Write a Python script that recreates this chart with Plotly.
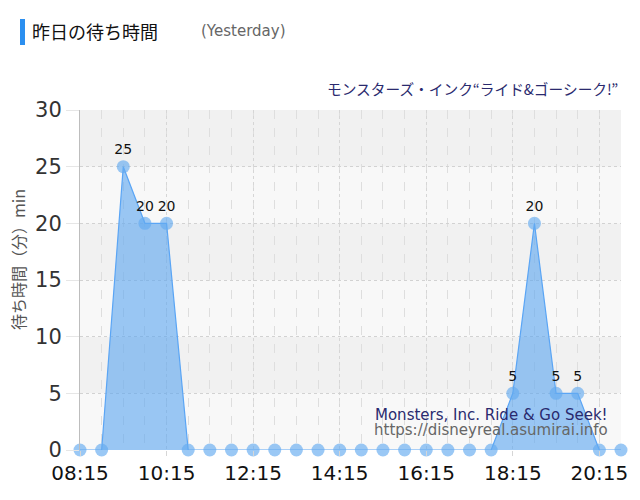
import plotly.graph_objects as go
import pandas as pd

times = ["08:15","08:45","09:15","09:45","10:15","10:45","11:15","11:45","12:15","12:45",
         "13:15","13:45","14:15","14:45","15:15","15:45","16:15","16:45","17:15","17:45",
         "18:15","18:45","19:15","19:45","20:15","20:45"]
waits = [0,0,25,20,20,0,0,0,0,0,0,0,0,0,0,0,0,0,0,0,5,20,5,5,0,0]
tick_labels = ["08:15","10:15","12:15","14:15","16:15","18:15","20:15"]
y_ticks = [0,5,10,15,20,25,30]

day = "2024-01-01 "
xs = pd.to_datetime([day + t for t in times])
tickvals = pd.to_datetime([day + t for t in tick_labels])
labels = [str(v) if v else "" for v in waits]

JP = "Noto Sans CJK JP, Noto Sans, sans-serif"
LAT = "DejaVu Sans, Verdana, sans-serif"

# page has an 8px body margin; plot area spans x 80..621, y 110..450 in the window
PL, PR, PT, PB = 80, 621, 110, 450
PW, PH = PR - PL, PB - PT

fig = go.Figure()
fig.add_trace(go.Scatter(
    x=xs, y=waits, mode="lines+markers+text", text=labels,
    textposition="top center", textfont=dict(size=14, color="#111", family=LAT),
    line=dict(color="#5aa5f5", width=1.2),
    fill="tozeroy", fillcolor="rgba(90,165,240,0.6)",
    marker=dict(size=13, color="rgba(100,170,240,0.65)", line=dict(width=0)),
    cliponaxis=False, hoverinfo="skip"))

shapes = []
for i in range(6):
    shapes.append(dict(type="rect", xref="paper", yref="y", x0=0, x1=1,
                       y0=i*5, y1=i*5+5, layer="below", line=dict(width=0),
                       fillcolor="#f8f8f8" if i % 2 == 0 else "#f1f1f1"))
fig.update_layout(shapes=shapes)

fig.update_layout(
    width=624, height=484,
    margin=dict(l=PL-8, r=624+8-PR, t=PT-8, b=484+8-PB),
    paper_bgcolor="white", plot_bgcolor="rgba(0,0,0,0)",
    showlegend=False,
    xaxis=dict(
        type="date", range=[xs[0], xs[-1]], automargin=False,
        tickvals=tickvals, ticktext=tick_labels,
        tickfont=dict(size=20, color="#111", family=LAT),
        showgrid=True, gridcolor="#d6d6d6", griddash="dot", gridwidth=1,
        ticks="outside", ticklen=5, tickcolor="#d6d6d6",
        showline=False, zeroline=False,
        minor=dict(dtick=30*60*1000, tick0=xs[0], showgrid=True,
                   gridcolor="#dedede", griddash="dash", gridwidth=1),
    ),
    yaxis=dict(
        range=[0, 30], tickvals=y_ticks, automargin=False,
        tickfont=dict(size=21, color="#333", family=LAT),
        showgrid=True, gridcolor="#d2d2d2", griddash="dot",
        ticks="outside", ticklen=13, tickcolor="#e6e6e6",
        showline=True, linecolor="#bdbdbd", linewidth=1,
        zeroline=False,
    ),
)

def px(x):
    return (x - PL) / PW

def py(y):
    return (PB - y) / PH

fig.add_annotation(xref="paper", yref="paper", x=px(30), y=py(31),
                   xanchor="left", yanchor="middle", showarrow=False,
                   text="昨日の待ち時間", font=dict(size=18, color="#111", family=JP))
fig.add_annotation(xref="paper", yref="paper", x=px(199), y=py(31),
                   xanchor="left", yanchor="middle", showarrow=False,
                   text="(Yesterday)", font=dict(size=15, color="#666", family=LAT))
fig.add_shape(type="rect", xref="paper", yref="paper",
              x0=px(20), x1=px(25), y0=py(45), y1=py(19),
              fillcolor="#2b8ff0", line=dict(width=0))
fig.add_annotation(xref="paper", yref="paper", x=px(620), y=py(88),
                   xanchor="right", yanchor="middle", showarrow=False,
                   text="モンスターズ・インク“ライド&ゴーシーク!”",
                   font=dict(size=14.7, color="#2a2a6e", family=JP))
fig.add_annotation(xref="paper", yref="paper", x=px(18), y=py(260), textangle=-90,
                   xanchor="center", yanchor="middle", showarrow=False,
                   text="待ち時間（分）min", font=dict(size=16, color="#555", family=JP))
fig.add_annotation(xref="paper", yref="paper", x=px(610), y=py(415),
                   xanchor="right", yanchor="middle", showarrow=False,
                   text="Monsters, Inc. Ride & Go Seek!",
                   font=dict(size=15, color="#2a2a6e", family=LAT))
fig.add_annotation(xref="paper", yref="paper", x=px(610), y=py(430),
                   xanchor="right", yanchor="middle", showarrow=False,
                   text="https://disneyreal.asumirai.info",
                   font=dict(size=15, color="#666", family=LAT))

fig.write_html("out.html")
